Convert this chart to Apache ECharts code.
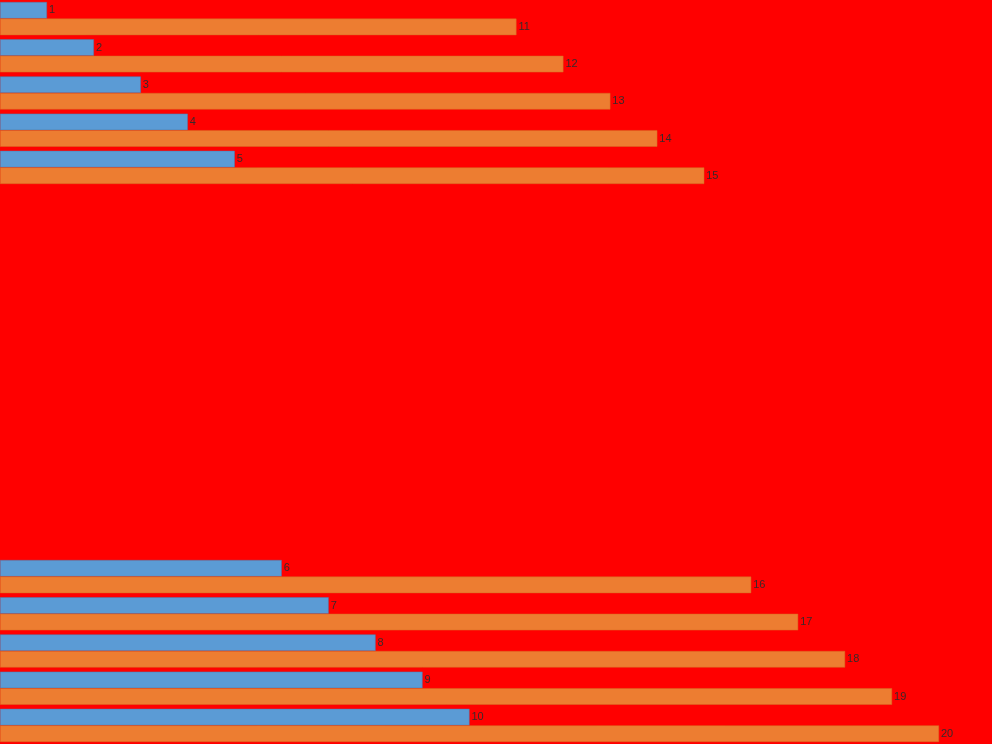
<!DOCTYPE html>
<html>
<head>
<meta charset="utf-8">
<style>html,body{margin:0;padding:0;background:#ff0000;}#c{width:992px;height:744px;}</style>
<script src="https://cdn.jsdelivr.net/npm/echarts@6/dist/echarts.min.js"></script>
</head>
<body>
<div id="c"></div>
<script>
const categories = ['A1','A2','A3','A4','A5','B1','B2','B3','B4','B5','B6','B7','B8','B9','B10','C1','C2','C3','C4','C5'];
const seriesBlue = [1,2,3,4,5,null,null,null,null,null,null,null,null,null,null,6,7,8,9,10];
const seriesOrange = [11,12,13,14,15,null,null,null,null,null,null,null,null,null,null,16,17,18,19,20];

const chart = echarts.init(document.getElementById('c'), null, {renderer:'canvas'});
const lbl = {show:true, position:'right', distance:2, fontSize:11, color:'#3a2a2a', fontFamily:'Liberation Sans, Arial, sans-serif'};
chart.setOption({
  backgroundColor:'#ff0000',
  animation:false,
  grid:{left:0,right:53,top:0,bottom:0,containLabel:false},
  xAxis:{type:'value',min:0,max:20,show:false},
  yAxis:{type:'category',data:categories,inverse:true,show:false},
  series:[
    {type:'bar',data:seriesBlue,barGap:'0%',barCategoryGap:'11%',itemStyle:{color:'#5b9bd5',borderColor:'#4a7fb0',borderWidth:0.5},label:lbl},
    {type:'bar',data:seriesOrange,barGap:'0%',barCategoryGap:'11%',itemStyle:{color:'#ed7d31',borderColor:'#d86a20',borderWidth:0.5},label:lbl}
  ]
});
</script>
</body>
</html>
